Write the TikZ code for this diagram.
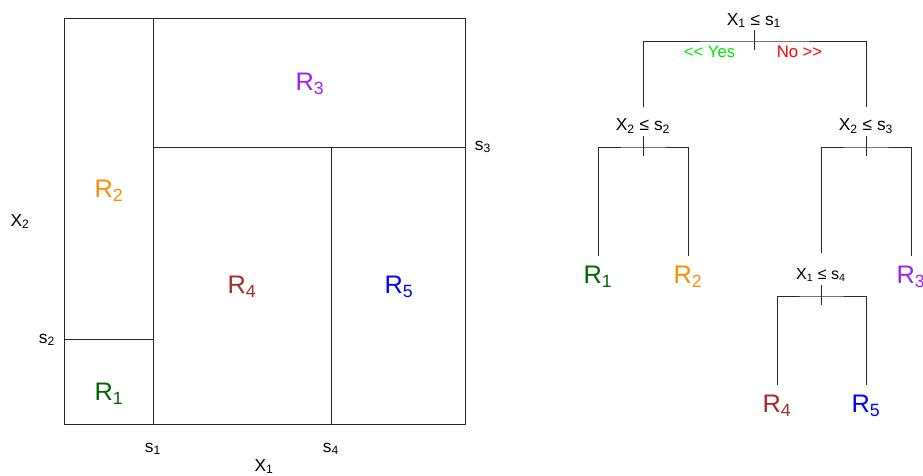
\documentclass[tikz,border=0pt]{standalone}
\usepackage{fontspec}
\setmainfont{Liberation Sans}
\usetikzlibrary{calc}
\definecolor{regOne}{HTML}{006400}
\definecolor{regTwo}{HTML}{FF8C00}
\definecolor{regThree}{HTML}{A020F0}
\definecolor{regFour}{HTML}{A52A2A}
\definecolor{regFive}{HTML}{0000FF}
\definecolor{yesGreen}{HTML}{00E800}
\definecolor{noRed}{HTML}{FF0000}
\definecolor{lineGray}{HTML}{2A2A2A}
\newcommand{\sbs}[1]{\textsubscript{#1}}

\begin{document}
\begin{tikzpicture}[
  x=0.75pt, y=-0.75pt,
  region/.style={font=\fontsize{19}{21}\selectfont, text=#1, anchor=base, inner sep=0pt},
  leaf/.style={region=#1, outer ysep=7.5pt},
  split/.style={font=\fontsize{13}{15}\selectfont, anchor=base, inner sep=0pt, outer ysep=9pt},
  ticklab/.style={font=\fontsize{13}{15}\selectfont, anchor=base, inner sep=0pt},
  answer/.style={font=\fontsize{12.5}{14}\selectfont, text=#1, anchor=base, inner sep=0pt},
  part/.style={draw=black!85, line width=0.75pt},
  edge/.style={draw=lineGray, line width=0.75pt}
]
\useasboundingbox (0,0) rectangle (923,475);

% ===== Left: partition of the (X1, X2) plane =====
\coordinate (nw) at (64,18);
\coordinate (se) at (465,424);
\coordinate (s1n) at (153,18);
\coordinate (s1s) at (153,424);
\coordinate (s2w) at (64,339);
\coordinate (s2e) at (153,339);
\coordinate (s3w) at (153,147);
\coordinate (s3e) at (465,147);
\coordinate (s4n) at (331,147);
\coordinate (s4s) at (331,424);

\draw[part] (nw) rectangle (se);
\draw[part] (s1n) -- (s1s);
\draw[part] (s2w) -- (s2e);
\draw[part] (s3w) -- (s3e);
\draw[part] (s4n) -- (s4s);

\node[region=regThree] (pR3) at (310,90)  {R\sbs{3}};
\node[region=regTwo]   (pR2) at (109,197) {R\sbs{2}};
\node[region=regFour]  (pR4) at (242,293) {R\sbs{4}};
\node[region=regFive]  (pR5) at (399,293) {R\sbs{5}};
\node[region=regOne]   (pR1) at (109,400) {R\sbs{1}};

% split values and axis names
\node[ticklab] (s1lab) at (153,452) {s\sbs{1}};
\node[ticklab] (s4lab) at (331,452) {s\sbs{4}};
\node[ticklab] (s2lab) at (47,343)  {s\sbs{2}};
\node[ticklab] (s3lab) at (483,150) {s\sbs{3}};
\node[ticklab] (xonelab) at (264,471) {X\sbs{1}};
\node[ticklab] (xtwolab) at (20,226)  {X\sbs{2}};

% ===== Right: the matching tree =====
\node[split] (t1) at (754,25)  {X\sbs{1} ≤ s\sbs{1}};
\node[split] (t2) at (643,130.5) {X\sbs{2} ≤ s\sbs{2}};
\node[split] (t3) at (866,130.5) {X\sbs{2} ≤ s\sbs{3}};
\node[split, font=\fontsize{12}{14}\selectfont, outer ysep=11pt]
  (t4) at (821,279) {X\sbs{1} ≤ s\sbs{4}};

\coordinate (t1bar) at (754,41);
\coordinate (t2bar) at (643,147);
\coordinate (t3bar) at (866,147);
\coordinate (t4bar) at (821,296);

\node[leaf=regOne]   (r1) at (598,283) {R\sbs{1}};
\node[leaf=regTwo]   (r2) at (688,283) {R\sbs{2}};
\node[leaf=regThree] (r3) at (911,283) {R\sbs{3}};
\node[leaf=regFour]  (r4) at (777,412) {R\sbs{4}};
\node[leaf=regFive]  (r5) at (866,412) {R\sbs{5}};

\node[answer=yesGreen] (yes) at (709.5,57) {<\kern0pt< Yes};
\node[answer=noRed]    (no)  at (799.5,57) {No >\kern0pt>};

% branches
\draw[edge] (t2.north) |- (t1bar) -| (t3.north);
\draw[edge] (r1.north) |- (t2bar) -| (r2.north);
\draw[edge] (t4.north) |- (t3bar) -| (r3.north);
\draw[edge] (r4.north) |- (t4bar) -| (r5.north);

% split ticks
\foreach \b in {t1bar,t2bar,t3bar,t4bar}
  \draw[edge] ($(\b)+(0,-11)$) -- ($(\b)+(0,9)$);

\end{tikzpicture}
\end{document}
